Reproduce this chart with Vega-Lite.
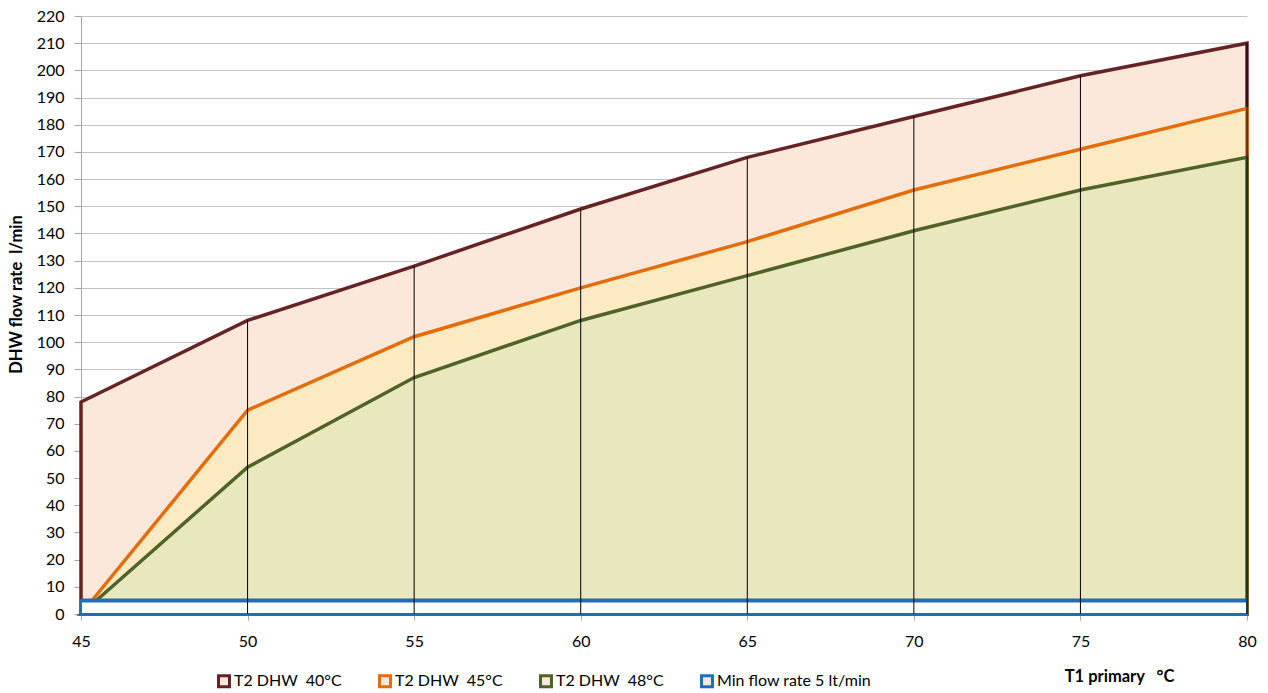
{
  "$schema": "https://vega.github.io/schema/vega-lite/v6.json",
  "width": 1166,
  "height": 598,
  "autosize": "none",
  "padding": {"left": 81, "top": 16, "right": 21, "bottom": 79},
  "background": "white",
  "config": {
    "view": {"stroke": null},
    "font": "Lato",
    "axis": {"labelFont": "Lato", "titleFont": "Lato"},
    "legend": {"labelFont": "Lato"}
  },
  "data": {
    "values": [
      {"k": 1, "series": "T2 DHW\u00a0 40°C", "T": 45, "flow": 78},
      {"k": 1, "series": "T2 DHW\u00a0 40°C", "T": 50, "flow": 108},
      {"k": 1, "series": "T2 DHW\u00a0 40°C", "T": 55, "flow": 128},
      {"k": 1, "series": "T2 DHW\u00a0 40°C", "T": 60, "flow": 149},
      {"k": 1, "series": "T2 DHW\u00a0 40°C", "T": 65, "flow": 168},
      {"k": 1, "series": "T2 DHW\u00a0 40°C", "T": 70, "flow": 183},
      {"k": 1, "series": "T2 DHW\u00a0 40°C", "T": 75, "flow": 198},
      {"k": 1, "series": "T2 DHW\u00a0 40°C", "T": 80, "flow": 210},
      {"k": 2, "series": "T2 DHW\u00a0 45°C", "T": 45, "flow": 0},
      {"k": 2, "series": "T2 DHW\u00a0 45°C", "T": 50, "flow": 75},
      {"k": 2, "series": "T2 DHW\u00a0 45°C", "T": 55, "flow": 102},
      {"k": 2, "series": "T2 DHW\u00a0 45°C", "T": 60, "flow": 120},
      {"k": 2, "series": "T2 DHW\u00a0 45°C", "T": 65, "flow": 137},
      {"k": 2, "series": "T2 DHW\u00a0 45°C", "T": 70, "flow": 156},
      {"k": 2, "series": "T2 DHW\u00a0 45°C", "T": 75, "flow": 171},
      {"k": 2, "series": "T2 DHW\u00a0 45°C", "T": 80, "flow": 186},
      {"k": 3, "series": "T2 DHW\u00a0 48°C", "T": 45, "flow": 0},
      {"k": 3, "series": "T2 DHW\u00a0 48°C", "T": 50, "flow": 54},
      {"k": 3, "series": "T2 DHW\u00a0 48°C", "T": 55, "flow": 87},
      {"k": 3, "series": "T2 DHW\u00a0 48°C", "T": 60, "flow": 108},
      {"k": 3, "series": "T2 DHW\u00a0 48°C", "T": 65, "flow": 124.5},
      {"k": 3, "series": "T2 DHW\u00a0 48°C", "T": 70, "flow": 141},
      {"k": 3, "series": "T2 DHW\u00a0 48°C", "T": 75, "flow": 156},
      {"k": 3, "series": "T2 DHW\u00a0 48°C", "T": 80, "flow": 168},
      {"k": 4, "series": "Min flow rate 5 lt/min", "T": 45, "flow": 5},
      {"k": 4, "series": "Min flow rate 5 lt/min", "T": 80, "flow": 5}
    ]
  },
  "encoding": {
    "x": {
      "field": "T", "type": "quantitative",
      "scale": {"domain": [45, 80], "nice": false, "zero": false},
      "axis": {
        "values": [45, 50, 55, 60, 65, 70, 75, 80],
        "grid": false, "labelFlush": false,
        "domainColor": "#A6A6A6", "tickColor": "#A6A6A6", "tickSize": 6,
        "labelFontSize": 16, "labelColor": "black", "labelPadding": 13,
        "title": "T1 primary\u00a0\u00a0 °C",
        "titleFontSize": 16.5, "titleFontWeight": "bold", "titleColor": "black",
        "titleAlign": "center", "titleBaseline": "middle",
        "titleX": 1038, "titleY": 62
      }
    },
    "y": {
      "field": "flow", "type": "quantitative", "stack": null,
      "scale": {"domain": [0, 220], "nice": false},
      "axis": {
        "values": [0, 10, 20, 30, 40, 50, 60, 70, 80, 90, 100, 110, 120, 130, 140, 150, 160, 170, 180, 190, 200, 210, 220],
        "grid": true, "gridColor": "#C3C3C3", "gridWidth": 1,
        "domainColor": "#A6A6A6", "tickColor": "#A6A6A6", "tickSize": 7,
        "labelFontSize": 16, "labelColor": "black", "labelPadding": 10,
        "title": "DHW flow rate\u00a0 l/min",
        "titleFontSize": 16.5, "titleFontWeight": "bold", "titleColor": "black",
        "titleX": -57, "titleY": 278
      }
    }
  },
  "layer": [
    {
      "transform": [{"filter": {"field": "k", "equal": 1}}],
      "mark": {"type": "area", "strokeWidth": 3.5, "fill": "#FCE8DA", "fillOpacity": 1},
      "encoding": {
        "stroke": {
          "field": "series", "type": "nominal",
          "scale": {
            "domain": ["T2 DHW\u00a0 40°C", "T2 DHW\u00a0 45°C", "T2 DHW\u00a0 48°C", "Min flow rate 5 lt/min"],
            "range": ["#652326", "#E46C0A", "#4F6228", "#1F6FB6"]
          },
          "legend": {
            "title": null, "orient": "none", "legendX": 135, "legendY": 657,
            "direction": "horizontal", "padding": 0,
            "symbolType": "square", "symbolSize": 120, "symbolStrokeWidth": 3,
            "labelFontSize": 16, "labelColor": "black", "labelOffset": 2,
            "columnPadding": 31,
            "encode": {"symbols": {"update": {
              "fill": {"signal": "indexof(datum.value, '40') >= 0 ? '#F6E2DA' : indexof(datum.value, '45') >= 0 ? '#FFF0C8' : indexof(datum.value, '48') >= 0 ? '#EEF0DC' : '#FFFFFF'"},
              "fillOpacity": {"value": 1}
            }}}
          }
        }
      }
    },
    {
      "transform": [{"filter": {"field": "k", "equal": 2}}],
      "mark": {"type": "area", "strokeWidth": 3.5, "fill": "#FCEBC2", "fillOpacity": 1},
      "encoding": {
        "stroke": {"field": "series", "type": "nominal"}
      }
    },
    {
      "transform": [{"filter": {"field": "k", "equal": 3}}],
      "mark": {"type": "area", "strokeWidth": 3.5, "fill": "#E8E7BD", "fillOpacity": 1},
      "encoding": {
        "stroke": {"field": "series", "type": "nominal"}
      }
    },
    {
      "transform": [{"filter": {"field": "k", "equal": 4}}],
      "mark": {"type": "area", "strokeWidth": 2, "fill": "#FFFFFF", "fillOpacity": 1},
      "encoding": {
        "stroke": {"field": "series", "type": "nominal"}
      }
    },
    {
      "transform": [{"filter": {"field": "k", "equal": 4}}],
      "mark": {"type": "line", "strokeWidth": 4},
      "encoding": {
        "stroke": {"field": "series", "type": "nominal"}
      }
    },
    {
      "transform": [{"filter": {"and": [{"field": "k", "equal": 1}, {"field": "T", "gt": 45}]}}],
      "mark": {"type": "rule", "strokeWidth": 1},
      "encoding": {
        "y2": {"datum": 0},
        "stroke": {"value": "black"}
      }
    }
  ]
}
